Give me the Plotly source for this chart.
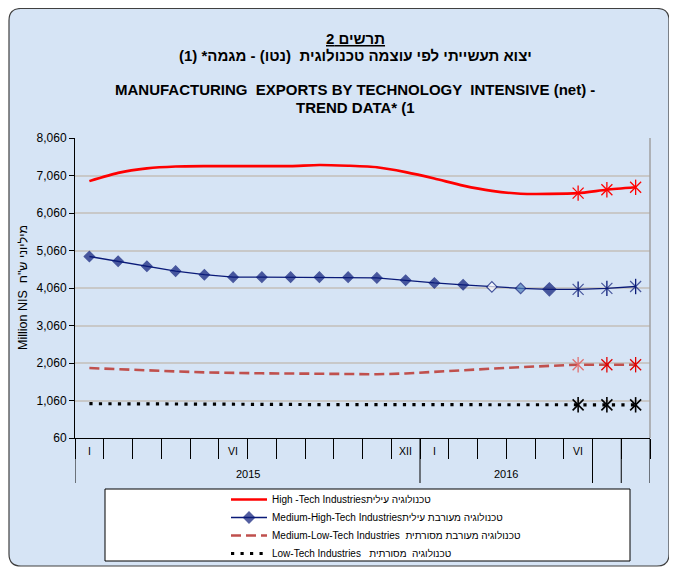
import plotly.graph_objects as go

# ---------------- data ----------------
months = ["I", "II", "III", "IV", "V", "VI", "VII", "VIII", "IX", "X", "XI", "XII",
          "I", "II", "III", "IV", "V", "VI", "VII", "VIII"]
years = ["2015"] * 12 + ["2016"] * 8
month_labels = ["I", "", "", "", "", "VI", "", "", "", "", "", "XII",
                "I", "", "", "", "", "VI", "", ""]
year_groups = ["2015"] * 12 + ["2016"] * 6 + ["", ""]

high_tech = [6910, 7130, 7250, 7300, 7310, 7310, 7310, 7310, 7340, 7320,
             7280, 7150, 6980, 6790, 6650, 6575, 6570, 6590, 6680, 6745]
med_high = [4900, 4775, 4640, 4510, 4415, 4350, 4350, 4350, 4350, 4350,
            4330, 4265, 4195, 4145, 4090, 4050, 4025, 4025, 4050, 4100]
med_low = [1925, 1890, 1860, 1835, 1810, 1790, 1785, 1780, 1770, 1755,
           1760, 1780, 1830, 1870, 1910, 1950, 1985, 2015, 2015, 2015]
low_tech = [975, 975, 975, 975, 975, 975, 970, 955, 950, 950,
            950, 950, 950, 950, 950, 945, 945, 945, 945, 945]

series_names = [
    "High -Tech Industries" + "טכנולוגיה עילית",
    "Medium-High-Tech Industries" + "טכנולוגיה מעורבת עילית",
    "Medium-Low-Tech Industries  " + "טכנולוגיה מעורבת מסורתית",
    "Low-Tech Industries   " + "טכנולוגיה  מסורתית",
]
y_ticks = [60, 1060, 2060, 3060, 4060, 5060, 6060, 7060, 8060]
n_forecast = 3  # last points drawn with asterisk markers

# ---------------- figure ----------------
cats = [f"{m} {y}" for m, y in zip(months, years)]
FONT = "Liberation Sans, Arial, DejaVu Sans, sans-serif"
fig = go.Figure()

RED = "#FF0000"
NAVY = "#0A1A78"
DRED = "#C0504D"
LEG = ["legend", "legend2", "legend3", "legend4"]

def asterisk(xs, ys, colors, size=11, width=1.3):
    for sym in ("x-thin-open", "line-ns-open"):
        fig.add_trace(go.Scatter(
            x=xs, y=ys, mode="markers", showlegend=False, hoverinfo="skip",
            marker=dict(symbol=sym, size=size, color=colors,
                        line=dict(width=width, color=colors))))

# High tech
fig.add_trace(go.Scatter(x=cats, y=high_tech, mode="lines", name=series_names[0], legend=LEG[0],
                         line=dict(color=RED, width=2.6, shape="spline", smoothing=0.6)))
asterisk(cats[-n_forecast:], high_tech[-n_forecast:], RED)

# Medium-high tech
nb = len(med_high)
symbols = ["diamond"] * (nb - n_forecast) + ["x-thin-open"] * n_forecast
mcolors = [NAVY] * nb
mcolors[nb - 6] = "white"
mcolors[nb - 5] = "#4F81BD"
msizes = [8] * (nb - n_forecast) + [11] * n_forecast
msizes[nb - 4] = 10
fig.add_trace(go.Scatter(x=cats, y=med_high, mode="lines+markers", name=series_names[1],
                         legend=LEG[1], line=dict(color=NAVY, width=1.3),
                         marker=dict(symbol=symbols, size=msizes, color=mcolors,
                                     line=dict(color=NAVY, width=1.2))))
fig.add_trace(go.Scatter(x=cats[-n_forecast:], y=med_high[-n_forecast:], mode="markers",
                         showlegend=False, hoverinfo="skip",
                         marker=dict(symbol="line-ns-open", size=11, color=NAVY,
                                     line=dict(color=NAVY, width=1.3))))

# Medium-low tech
fig.add_trace(go.Scatter(x=cats, y=med_low, mode="lines", name=series_names[2], legend=LEG[2],
                         line=dict(color=DRED, width=2.6, dash="10px,5px")))
asterisk(cats[-n_forecast:], med_low[-n_forecast:], ["#E07070", "#E00000", "#E00000"])

# Low tech
fig.add_trace(go.Scatter(x=cats, y=low_tech, mode="lines", name=series_names[3], legend=LEG[3],
                         line=dict(color="black", width=3.2, dash="3.2px,6.3px")))
asterisk(cats[-n_forecast:], low_tech[-n_forecast:], "black", width=1.6)

# ---------------- decorations ----------------
# (positions below are in reference-window pixels; the page body adds an 8px offset)
PL, PR, PT, PB = 75, 650, 138, 438
def px(x):
    return (x - PL) / (PR - PL)
def py(y):
    return (PB - y) / (PB - PT)

shapes = []
X0, X1 = px(9), px(669)
Y0, Y1 = py(566), py(8.5)
rx, ry = 12 / (PR - PL), 12 / (PB - PT)
path = (f"M{X0+rx},{Y1} L{X1-rx},{Y1} Q{X1},{Y1} {X1},{Y1-ry} "
        f"L{X1},{Y0+ry} Q{X1},{Y0} {X1-rx},{Y0} L{X0+rx},{Y0} "
        f"Q{X0},{Y0} {X0},{Y0+ry} L{X0},{Y1-ry} Q{X0},{Y1} {X0+rx},{Y1} Z")
shapes.append(dict(type="path", xref="paper", yref="paper", path=path,
                   fillcolor="#D6E4F5", line=dict(color="#404040", width=1.2), layer="below"))
# legend box
shapes.append(dict(type="rect", xref="paper", yref="paper",
                   x0=px(105), x1=px(630), y0=py(561), y1=py(489),
                   fillcolor="white", line=dict(color="black", width=1), layer="below"))
# right border of plot area
shapes.append(dict(type="line", xref="paper", yref="paper", x0=1, x1=1, y0=0, y1=1,
                   line=dict(color="#A0A0A0", width=1.5)))
# long dividers of the category groups
bounds = [-0.5]
for i in range(1, len(year_groups)):
    if year_groups[i] != year_groups[i - 1] or year_groups[i] == "":
        bounds.append(i - 0.5)
bounds.append(len(year_groups) - 0.5)
for b in bounds:
    shapes.append(dict(type="line", xref="x", yref="paper", x0=b, x1=b, y0=0, y1=py(483),
                       line=dict(color="black", width=1)))

annotations = []
for c, lab in zip(cats, month_labels):
    if lab:
        annotations.append(dict(x=c, y=py(451), xref="x", yref="paper", text=lab,
                                yanchor="middle", showarrow=False,
                                font=dict(size=10.5, color="black", family=FONT)))
groups = {}
for i, g in enumerate(year_groups):
    if g:
        groups.setdefault(g, []).append(i)
for g, idx in groups.items():
    annotations.append(dict(x=(idx[0] + idx[-1]) / 2, y=py(474), xref="x", yref="paper", text=g,
                            yanchor="middle", showarrow=False,
                            font=dict(size=11, color="black", family=FONT)))

tx = px(355)
title_lines = [
    ("<u>תרשים 2</u>", 39),
    ("יצוא תעשייתי לפי עוצמה טכנולוגית  (נטו) - מגמה* (1)", 56),
    ("MANUFACTURING  EXPORTS BY TECHNOLOGY  INTENSIVE (net) -", 89),
    ("TREND DATA* (1", 107),
]
for t, yp in title_lines:
    annotations.append(dict(x=tx, y=py(yp), xref="paper", yref="paper",
                            text=f"<b>{t}</b>", showarrow=False, xanchor="center", yanchor="middle",
                            font=dict(size=15, color="black", family=FONT)))
annotations.append(dict(x=px(23), y=0.5, xref="paper", yref="paper",
                        text="Million NIS  מיליוני ש\"ח", textangle=-90, showarrow=False,
                        xanchor="center", yanchor="middle",
                        font=dict(size=12.5, color="black", family=FONT)))

legend_rows = [498, 516, 534, 552]
legends = {}
for name, row in zip(LEG, legend_rows):
    legends[name] = dict(x=px(226), y=py(row - 13), xanchor="left", yanchor="top", itemwidth=36,
                         bgcolor="rgba(0,0,0,0)", borderwidth=0,
                         font=dict(size=10, color="black", family=FONT))

OFF = 8
W, H = 677 - OFF, 569 - OFF
fig.update_layout(
    width=W, height=H,
    margin=dict(l=PL - OFF, r=W - (PR - OFF), t=PT - OFF, b=H - (PB - OFF), autoexpand=False),
    paper_bgcolor="white", plot_bgcolor="white",
    font=dict(family=FONT, color="black"),
    shapes=shapes, annotations=annotations,
    showlegend=True,
    **legends,
    xaxis=dict(type="category", categoryarray=cats, range=[-0.5, len(cats) - 0.5],
               showticklabels=False, ticks="outside", tickson="boundaries", ticklen=20,
               tickcolor="black", showline=True, linecolor="black", linewidth=1,
               showgrid=False, zeroline=False, fixedrange=True),
    yaxis=dict(range=[y_ticks[0], y_ticks[-1]], tickmode="array", tickvals=y_ticks,
               ticktext=[f"{v:,}" for v in y_ticks], ticks="outside", ticklen=5,
               tickcolor="black", showline=True, linecolor="black", linewidth=1,
               gridcolor="#C8C8C8", gridwidth=1.5, zeroline=False,
               tickfont=dict(size=12, color="black", family=FONT)),
)

fig.write_html("out.html")
